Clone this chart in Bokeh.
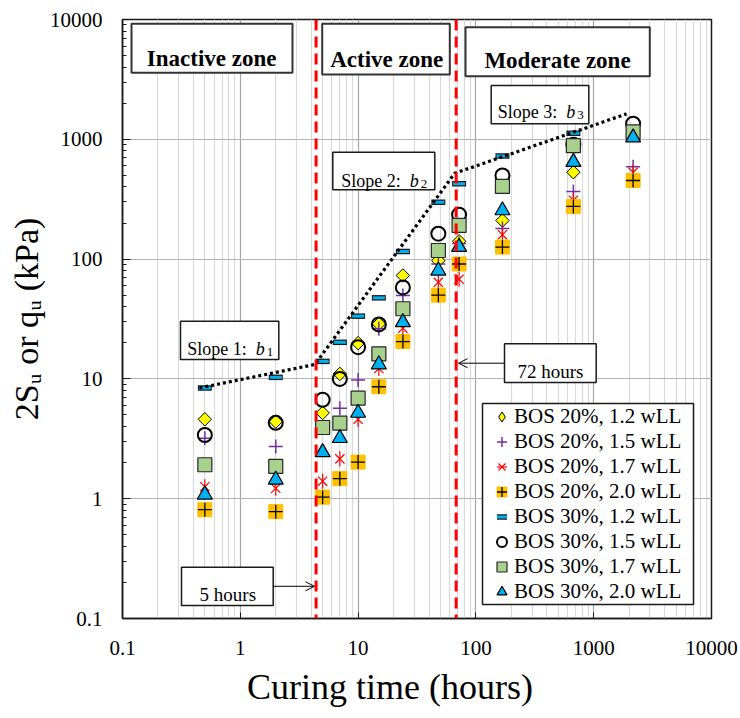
import math
from bokeh.plotting import figure
from bokeh.models import (FixedTicker, Label, BoxAnnotation, Legend, LegendItem,
                          Arrow, OpenHead, Span)
from bokeh.embed import file_html
from bokeh.resources import INLINE

# ---------------- data ----------------
curing_hours = [0.5, 2, 5, 7, 10, 15, 24, 48, 72, 168, 672, 2160]
bos20_12wll = [4.6, 4.4, 5.2, 11.0, 19.9, 28.8, 73, 97, 141, 210, 531, 450]
bos20_15wll = [3.2, 2.73, 3.9, 5.7, 9.8, 26.2, 49.7, 91, 135, 180, 367, 589]
bos20_17wll = [1.26, 1.22, 1.40, 2.15, 4.6, 12.2, 26.5, 64, 68, 160, 310, 530]
bos20_20wll = [0.81, 0.78, 1.03, 1.47, 2.02, 8.6, 20.5, 50, 91, 126, 275, 453]
bos30_12wll = [8.4, 10.3, 14.0, 20.2, 33.4, 47.5, 116, 298, 425, 726, 1122, 1150]
bos30_15wll = [3.4, 4.3, 6.7, 10.0, 18.4, 28.5, 58, 163, 235, 499, 900, 1350]
bos30_17wll = [1.92, 1.86, 3.93, 4.27, 6.9, 16.2, 38.5, 118, 191, 404, 885, 1153]
bos30_20wll = [1.08, 1.44, 2.44, 3.2, 5.2, 13.2, 29.7, 80, 126, 255, 646, 1035]
series_labels = ["BOS 20%, 1.2 wLL", "BOS 20%, 1.5 wLL", "BOS 20%, 1.7 wLL",
                 "BOS 20%, 2.0 wLL", "BOS 30%, 1.2 wLL", "BOS 30%, 1.5 wLL",
                 "BOS 30%, 1.7 wLL", "BOS 30%, 2.0 wLL"]
slope_hours = [0.45, 4.3, 66, 1900]
slope_strength = [8.4, 13.2, 520, 1630]
zone_boundaries = [4.4, 68]
tick_values = [0.1, 1, 10, 100, 1000, 10000]
tick_labels = ["0.1", "1", "10", "100", "1000", "10000"]

# ---------------- layout ----------------
W, H = 740, 718
FL, FR, FT, FB = 122, 711, 19, 618   # frame edges in window pixels
XMIN, XMAX, YMIN, YMAX = 0.1, 10000, 0.1, 10000
FONT = "Liberation Serif"
NBSP = "\u00a0"


def px2x(px):
    lo, hi = math.log10(XMIN), math.log10(XMAX)
    return 10 ** (lo + (px - FL) / (FR - FL) * (hi - lo))


def py2y(py):
    lo, hi = math.log10(YMIN), math.log10(YMAX)
    return 10 ** (lo + (FB - py) / (FB - FT) * (hi - lo))


p = figure(width=W, height=H, x_axis_type="log", y_axis_type="log",
           x_range=(XMIN, XMAX), y_range=(YMIN, YMAX),
           output_backend="svg", toolbar_location=None,
           min_border_left=FL, min_border_right=W - FR,
           min_border_top=FT, min_border_bottom=H - FB)
p.background_fill_color = "white"
p.border_fill_color = "white"
p.outline_line_color = "#1a1a1a"
p.outline_line_width = 1.5

minor = [m * 10 ** e for e in range(-1, 4) for m in range(2, 10)]
for ax in (p.xaxis[0], p.yaxis[0]):
    ax.ticker = FixedTicker(ticks=tick_values, minor_ticks=minor)
    ax.major_label_overrides = dict(zip(tick_values, tick_labels))
    ax.major_label_text_font = FONT
    ax.major_label_text_font_size = "21px"
    ax.major_label_text_color = "black"
    ax.axis_line_color = "#1a1a1a"
    ax.axis_line_width = 1.5
    ax.major_tick_line_color = "#1a1a1a"
    ax.minor_tick_line_color = "#1a1a1a"
    ax.major_tick_out = 0
    ax.minor_tick_out = 0
    ax.axis_label_text_font = FONT
    ax.axis_label_text_font_style = "normal"
    ax.axis_label_text_color = "black"

p.xaxis.major_tick_in = 6
p.xaxis.minor_tick_in = 0
p.xaxis.major_label_standoff = 22
p.yaxis.major_tick_in = 8
p.yaxis.minor_tick_in = 4
p.yaxis.major_label_standoff = 20

# trailing no-break spaces shift the centred title left, as in the original
p.xaxis.axis_label = "Curing time (hours)" + NBSP * 6
p.xaxis.axis_label_text_font_size = "36px"
p.xaxis.axis_label_standoff = 9
p.yaxis.axis_label = "2S\u1d64 or q\u1d64 (kPa)"
p.yaxis.axis_label_text_font_size = "34px"
p.yaxis.axis_label_standoff = 2

p.xgrid.grid_line_color = "#a6a6a6"
p.xgrid.grid_line_width = 1.2
p.xgrid.minor_grid_line_color = "#d9d9d9"
p.xgrid.minor_grid_line_width = 1.2
p.ygrid.grid_line_color = "#b3b3b3"
p.ygrid.grid_line_width = 1.2

# ---------------- data marks ----------------
r1 = p.scatter(curing_hours, bos20_12wll, marker="square", angle=math.pi / 4, size=9.5,
               fill_color="#FFFF00", line_color="black", line_width=1)
# zero-size twin of the same series: only supplies the diamond swatch in the legend
r1_key = p.scatter(curing_hours, bos20_12wll, marker="diamond", size=0,
                   fill_color="#FFFF00", line_color="black", line_width=1)
r2 = p.scatter(curing_hours, bos20_15wll, marker="cross", size=14,
               line_color="#7030A0", line_width=1.5)
r3a = p.scatter(curing_hours, bos20_17wll, marker="x", size=13,
                line_color="#FF0000", line_width=1.2)
r3b = p.scatter(curing_hours, bos20_17wll, marker="dash", angle=math.pi / 2, size=15,
                line_color="#FF0000", line_width=1.2)
r4a = p.scatter(curing_hours, bos20_20wll, marker="square", size=14,
                fill_color="#FFC000", line_color="#FFC000", line_width=1)
r4b = p.scatter(curing_hours, bos20_20wll, marker="cross", size=14,
                line_color="black", line_width=1.3)
r5a = p.scatter(curing_hours, bos30_12wll, marker="dash", size=14,
                line_color="#1a1a1a", line_width=5.5)
r5b = p.scatter(curing_hours, bos30_12wll, marker="dash", size=12,
                line_color="#00B0F0", line_width=3)
r6 = p.scatter(curing_hours, bos30_15wll, marker="circle", size=14,
               fill_alpha=0, line_color="black", line_width=2)
r7 = p.scatter(curing_hours, bos30_17wll, marker="square", size=14,
               fill_color="#A9D18E", line_color="#262626", line_width=1.2)
r8 = p.scatter(curing_hours, bos30_20wll, marker="triangle", size=15,
               fill_color="#00B0F0", line_color="black", line_width=1.2)

p.line(slope_hours, slope_strength, line_color="black", line_width=3.2, line_dash="3 3")

for xb in zone_boundaries:
    p.add_layout(Span(location=xb, dimension="height", line_color="#FF0000",
                      line_width=3, line_dash="11 6"))


# ---------------- annotation boxes ----------------
def box(l, r, t, b, lw=1.5, color="#1a1a1a"):
    p.add_layout(BoxAnnotation(left=px2x(l), right=px2x(r), top=py2y(t), bottom=py2y(b),
                               fill_color="white", fill_alpha=1, line_color=color,
                               line_alpha=1, line_width=lw))


def text(px, py, s, size, style="normal", align="left"):
    p.add_layout(Label(x=px2x(px), y=py2y(py), text=s,
                       text_font=FONT, text_font_size=f"{size}px",
                       text_font_style=style, text_align=align,
                       text_baseline="alphabetic", text_color="black"))


box(131, 292, 23.3, 72.3, lw=2, color="#333333")
box(321.7, 449.3, 23.3, 74, lw=2, color="#333333")
box(465, 649.3, 26.7, 75.7, lw=2, color="#333333")
text(211.2, 58.3, "Inactive zone", 23, "bold", "center")
text(386.2, 59.3, "Active zone", 23, "bold", "center")
text(557, 60, "Moderate zone", 23, "bold", "center")

for (l, r, t, b), (sx, sy), n in [((180, 278.3, 320.7, 359), (186.7, 348.3), "1"),
                                  ((332.3, 434.3, 151.7, 189.3), (340.7, 180), "2"),
                                  ((490.7, 588.3, 85, 123.3), (497.3, 111.7), "3")]:
    box(l, r, t, b)
    text(sx, sy, f"Slope {n}:", 18)
    text(sx + 68.5, sy, "b", 18, "italic")
    text(sx + 79.5, sy + 3, n, 13)

box(504, 595.7, 343.3, 382)
text(550, 371, "72 hours", 19, align="center")
p.add_layout(Arrow(end=OpenHead(size=9, line_width=1, line_color="black"),
                   x_start=px2x(504), y_start=py2y(362.7),
                   x_end=px2x(458), y_end=py2y(362.7), line_width=1, line_color="black"))
box(181, 272.7, 566.7, 605)
text(227.3, 594.3, "5 hours", 19, align="center")
p.add_layout(Arrow(end=OpenHead(size=9, line_width=1, line_color="black"),
                   x_start=px2x(272.7), y_start=py2y(585.8),
                   x_end=px2x(314), y_end=py2y(585.8), line_width=1, line_color="black"))

# ---------------- legend ----------------
box(482, 693, 403, 604)
renderer_groups = [[r1_key], [r2], [r3a, r3b], [r4a, r4b], [r5a, r5b], [r6], [r7], [r8]]
legend = Legend(items=[LegendItem(label=lab, renderers=g)
                       for lab, g in zip(series_labels, renderer_groups)],
                location=(367, 14), padding=0, spacing=0, margin=0,
                glyph_width=25, glyph_height=25, label_height=25, label_standoff=0,
                label_text_font=FONT, label_text_font_size="21px",
                label_text_color="black",
                border_line_alpha=0, background_fill_alpha=0)
p.add_layout(legend)

open("out.html", "w").write(file_html(p, INLINE))
